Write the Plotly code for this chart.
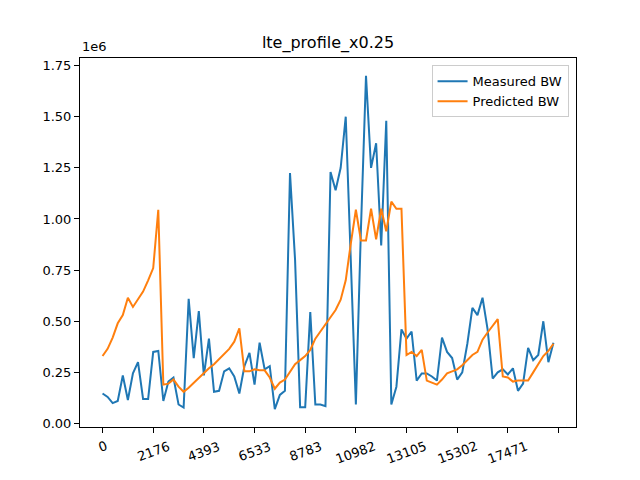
import plotly.graph_objects as go

# Data
tick_labels = ['0', '2176', '4393', '6533', '8783', '10982', '13105', '15302', '17471', '']

measured_bw = [0.147, 0.13, 0.10, 0.11, 0.235, 0.115, 0.245, 0.30, 0.12, 0.12,
               0.35, 0.355, 0.11, 0.205, 0.225, 0.093, 0.078, 0.61, 0.32, 0.55,
               0.235, 0.415, 0.155, 0.16, 0.255, 0.27, 0.23, 0.147, 0.28, 0.345,
               0.19, 0.395, 0.265, 0.28, 0.07, 0.14, 0.16, 1.225, 0.80, 0.08,
               0.08, 0.545, 0.093, 0.093, 0.085, 1.23, 1.14, 1.25, 1.50, 0.80,
               0.093, 0.95, 1.70, 1.25, 1.37, 0.87, 1.48, 0.093, 0.18, 0.46,
               0.415, 0.45, 0.21, 0.245, 0.245, 0.23, 0.21, 0.42, 0.35, 0.32,
               0.215, 0.25, 0.39, 0.565, 0.53, 0.615, 0.46, 0.22, 0.25, 0.265,
               0.24, 0.27, 0.16, 0.195, 0.37, 0.31, 0.335, 0.50, 0.30, 0.395]

predicted_bw = [0.33, 0.365, 0.42, 0.49, 0.53, 0.615, 0.57, 0.61, 0.645, 0.70,
                0.76, 1.045, 0.19, 0.195, 0.215, 0.18, 0.155, 0.175, 0.20, 0.225,
                0.25, 0.27, 0.29, 0.315, 0.335, 0.365, 0.40, 0.465, 0.255, 0.255,
                0.265, 0.26, 0.26, 0.225, 0.17, 0.20, 0.215, 0.25, 0.29, 0.31,
                0.33, 0.36, 0.415, 0.45, 0.485, 0.525, 0.555, 0.605, 0.70, 0.88,
                1.045, 0.895, 0.895, 1.05, 0.90, 1.05, 0.94, 1.085, 1.05, 1.05,
                0.335, 0.35, 0.33, 0.36, 0.21, 0.20, 0.19, 0.215, 0.245, 0.255,
                0.265, 0.285, 0.31, 0.335, 0.35, 0.41, 0.445, 0.475, 0.51, 0.23,
                0.225, 0.205, 0.21, 0.21, 0.21, 0.25, 0.29, 0.33, 0.355, 0.39]

measured_bw = [v * 1e6 for v in measured_bw]
predicted_bw = [v * 1e6 for v in predicted_bw]
idx = list(range(len(measured_bw)))
tick_pos = list(range(0, 10 * len(tick_labels), 10))

y_ticks = [0, 0.25e6, 0.5e6, 0.75e6, 1.0e6, 1.25e6, 1.5e6, 1.75e6]
y_tick_text = ['0.00', '0.25', '0.50', '0.75', '1.00', '1.25', '1.50', '1.75']

fig = go.Figure()

fig.add_trace(go.Scatter(x=idx, y=measured_bw, mode='lines', name='Measured BW',
                         line=dict(color='#1f77b4', width=2)))
fig.add_trace(go.Scatter(x=idx, y=predicted_bw, mode='lines', name='Predicted BW',
                         line=dict(color='#ff7f0e', width=2)))

axis_style = dict(showline=True, linecolor='black', linewidth=1, mirror=True,
                  ticks='outside', ticklen=5, tickcolor='black', showgrid=False,
                  zeroline=False, automargin=False,
                  tickfont=dict(size=13, color='black'))

fig.update_layout(
    width=640, height=480,
    margin=dict(l=80, r=64, t=58, b=53),
    paper_bgcolor='white', plot_bgcolor='white',
    font=dict(family='DejaVu Sans', size=13, color='black'),
    title=dict(text='lte_profile_x0.25', x=0.5, xref='paper', xanchor='center',
               y=0.912, yref='container', yanchor='middle', automargin=False,
               font=dict(size=16, color='black')),
    xaxis=dict(range=[-4.45, 93.45], tickvals=tick_pos, showticklabels=False,
               **axis_style),
    yaxis=dict(range=[-0.017e6, 1.787e6], tickvals=y_ticks, ticktext=y_tick_text,
               **axis_style),
    legend=dict(x=0.985, y=0.98, xanchor='right', yanchor='top',
                bgcolor='rgba(255,255,255,0.8)', bordercolor='#cccccc', borderwidth=1,
                font=dict(size=13)),
    showlegend=True,
)

# rotated x tick labels, centred under each tick like matplotlib does
for pos, label in zip(tick_pos, tick_labels):
    if label:
        fig.add_annotation(text=label, x=pos, xref='x', y=0, yref='paper',
                           xanchor='center', yanchor='top', yshift=-9,
                           textangle=-20, showarrow=False,
                           font=dict(size=13, color='black'))

fig.add_annotation(text='1e6', xref='paper', yref='paper', x=0, y=1,
                   xanchor='left', yanchor='bottom', yshift=2, showarrow=False,
                   font=dict(size=13, color='black'))

# page body has a default margin; drop it so the figure sits at the window corner
fig.write_html('out.html', config={'displayModeBar': False},
               post_script="document.body.style.margin='0px';")
